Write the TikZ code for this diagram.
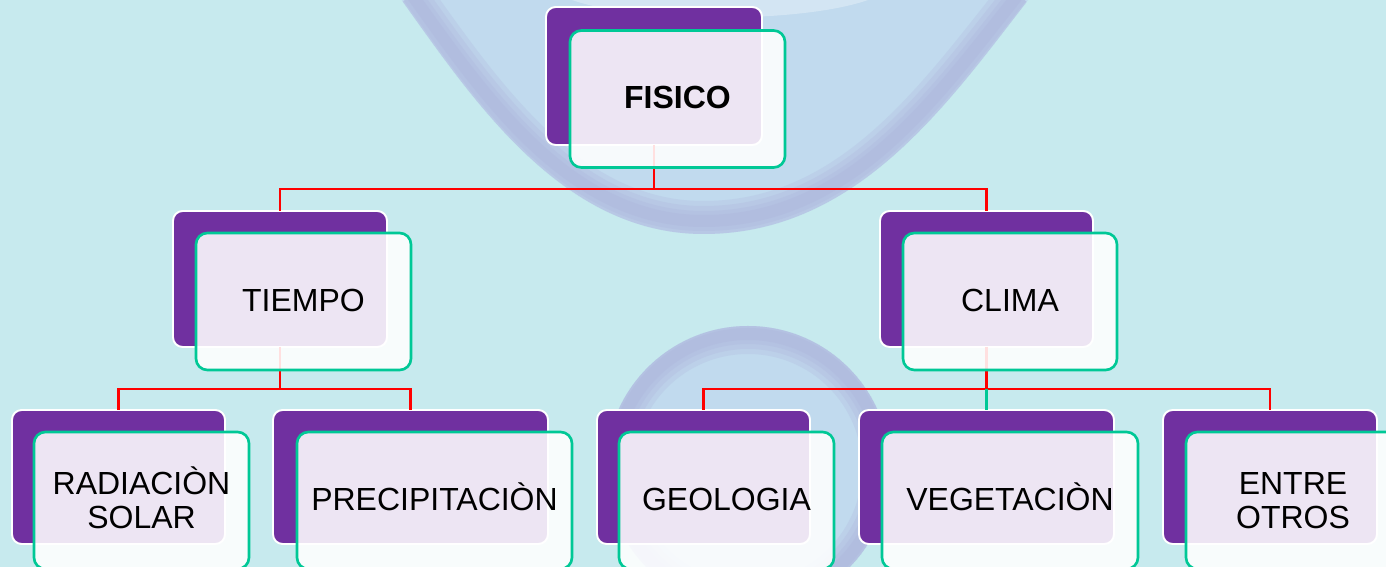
\documentclass[tikz,border=0pt]{standalone}
\usepackage{fontspec}
\setmainfont{Liberation Sans}
\definecolor{bg}{RGB}{199,234,238}
\definecolor{purp}{RGB}{112,48,160}
\definecolor{grn}{RGB}{0,200,150}
\definecolor{droprim}{RGB}{168,170,215}
\definecolor{dropin}{RGB}{192,216,238}
\tikzset{
  backbox/.style={draw=white, line width=1.1pt, fill=purp, rounded corners=5.5pt, inner sep=0pt, outer sep=0pt},
  frontbox/.style={draw=grn, line width=1.5pt, fill=white, fill opacity=0.88, text opacity=1, rounded corners=6.5pt, inner sep=0pt, outer sep=0pt, align=center, font=\fontsize{18.2}{19.5}\selectfont, text height=13pt, text depth=2pt},
  twoline/.style={text height={}, text depth={}},
  conn/.style={draw=red, line width=1.5pt},
  gconn/.style={draw=grn, line width=1.5pt},
}
\newcommand\bk[5]{\node[backbox, minimum width=#4*0.02cm, minimum height=#5*0.02cm] (#1) at (#2,#3) {};}
\newcommand\fr[7][]{\node[frontbox, #1, minimum width=#5*0.02cm, minimum height=#6*0.02cm] (#2) at (#3,#4) {#7};}
\begin{document}
\begin{tikzpicture}[x=0.02cm,y=-0.02cm]
\clip (0,0) rectangle (1386,567);
\fill[bg] (0,0) rectangle (1386,567);
% top drop
\begin{scope}
\clip (398,-5) .. controls (470,95) and (560,235) .. (705,234) .. controls (860,233) and (950,100) .. (1032,-5) -- cycle;
\fill[dropin, opacity=0.85] (0,-5) rectangle (1386,300);
\foreach \w in {40,30,20,12} {
  \draw[droprim, opacity=0.2, line width=\w*0.02cm] (412,-5) .. controls (482,92) and (568,222) .. (705,221) .. controls (852,220) and (937,96) .. (1018,-5);
}
\fill[white, opacity=0.3] (560,-5) .. controls (620,25) and (820,25) .. (880,-5) -- cycle;
\end{scope}
% bottom sphere
\begin{scope}
\clip (748,468) circle [radius=142];
\fill[dropin, opacity=0.85] (748,468) circle [radius=142];
\foreach \w in {40,30,20,12} {
  \draw[droprim, opacity=0.2, line width=\w*0.02cm] (748,468) circle [radius=134];
}
\end{scope}
% back boxes
\bk{fisB}{654}{76}{216}{138}
\bk{tieB}{280}{279}{214}{136}
\bk{cliB}{986.5}{279}{213}{136}
\bk{radB}{118.5}{477}{213}{134}
\bk{preB}{410.5}{477}{275}{134}
\bk{geoB}{703.5}{477}{213}{134}
\bk{vegB}{986.5}{477}{255}{134}
\bk{entB}{1270}{477}{214}{134}
% connectors
\draw[conn] (fisB.south) -- ++(0,44) coordinate (fbus) -| (tieB.north);
\draw[conn] (fbus) -| (cliB.north);
\draw[conn] (tieB.south) -- ++(0,42) coordinate (tbus) -| (radB.north);
\draw[conn] (tbus) -| (preB.north);
\draw[conn] (cliB.south) -- ++(0,42) coordinate (cbus) -| (geoB.north);
\draw[conn] (cbus) -| (entB.north);
\draw[gconn] (cbus) -- (vegB.north);
% front boxes
\fr{fis}{677.5}{99}{215}{137}{\textbf{FISICO}}
\fr{tie}{303.5}{301.5}{215}{137}{TIEMPO}
\fr{cli}{1010}{301.5}{214}{137}{CLIMA}
\fr[twoline]{rad}{141.5}{500.5}{215}{137}{RADIACI\smash{Ò}N\\SOLAR}
\fr{pre}{434.5}{500.5}{275}{137}{PRECIPITACIÒN}
\fr{geo}{726.5}{500.5}{215}{137}{GEOLOGIA}
\fr{veg}{1010}{500.5}{256}{137}{VEGETACIÒN}
\fr[twoline]{ent}{1293}{500.5}{214}{137}{ENTRE\\OTROS}
\end{tikzpicture}
\end{document}
